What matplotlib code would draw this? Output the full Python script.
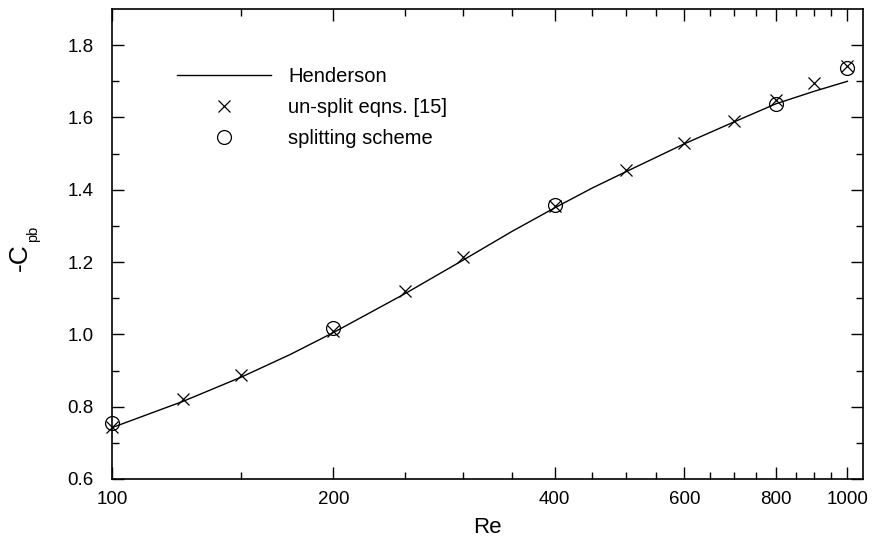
import numpy as np
import matplotlib
matplotlib.use('Agg')
import matplotlib.pyplot as plt
from matplotlib.ticker import FixedLocator, NullFormatter

plt.rcParams['font.family'] = ['Liberation Sans', 'DejaVu Sans']

# Henderson curve
re_hend = [100, 125, 150, 175, 200, 250, 300, 350, 400, 450, 500, 600, 700, 800, 900, 1000]
cpb_hend = [0.742, 0.815, 0.882, 0.945, 1.005, 1.112, 1.205, 1.285, 1.350, 1.405, 1.450,
            1.527, 1.587, 1.638, 1.672, 1.700]

# un-split equations
re_unsplit = [100, 125, 150, 200, 250, 300, 400, 500, 600, 700, 800, 900, 1000]
cpb_unsplit = [0.745, 0.821, 0.888, 1.010, 1.120, 1.214, 1.355, 1.455, 1.529, 1.590,
               1.648, 1.695, 1.743]

# splitting scheme
re_split = [100, 200, 400, 800, 1000]
cpb_split = [0.755, 1.018, 1.358, 1.637, 1.737]

fig = plt.figure(figsize=(8.72, 5.38), dpi=100)
ax = fig.add_axes([0.1284, 0.1097, 0.8613, 0.8736])

ax.plot(re_hend, cpb_hend, color='black', lw=1.0, label='Henderson')
ax.plot(re_unsplit, cpb_unsplit, ls='none', marker='x', ms=8.5, mew=0.9,
        color='black', label='un-split eqns. [15]', clip_on=False)
ax.plot(re_split, cpb_split, ls='none', marker='o', ms=10, mew=0.9,
        mfc='none', mec='black', label='splitting scheme', clip_on=False)

ax.set_xscale('log')
ax.set_xlim(100, 1050)
ax.set_ylim(0.6, 1.9)

major_x = [100, 200, 400, 600, 800, 1000]
minor_x = [r for r in range(150, 1001, 50) if r not in major_x]
ax.xaxis.set_major_locator(FixedLocator(major_x))
ax.xaxis.set_minor_locator(FixedLocator(minor_x))
ax.set_xticklabels([str(v) for v in major_x])
ax.xaxis.set_minor_formatter(NullFormatter())

ax.set_yticks(np.arange(0.6, 1.81, 0.2))
ax.set_yticklabels(['%.1f' % v for v in np.arange(0.6, 1.81, 0.2)])
ax.set_yticks(np.arange(0.7, 1.9, 0.2), minor=True)

ax.tick_params(which='both', direction='in', top=True, right=True,
               labelsize=13.5, width=1.0)
ax.tick_params(which='major', length=8.5)
ax.tick_params(which='minor', length=5)
ax.tick_params(axis='x', which='major', pad=9)
ax.tick_params(axis='y', which='major', pad=13)
for s in ax.spines.values():
    s.set_linewidth(1.2)

ax.set_xlabel('Re', fontsize=16, labelpad=6)

# y label: big "-C" with a small "pb" subscript
fig.text(20 / 872, 1 - 257 / 538, '-C', rotation=90, fontsize=19,
         ha='center', va='center')
fig.text(33 / 872, 1 - 234 / 538, 'pb', rotation=90, fontsize=10.5,
         ha='center', va='center')

ax.legend(loc='upper left', bbox_to_anchor=(0.062, 0.915), frameon=False,
          fontsize=14.5, handlelength=4.7, handletextpad=0.85, labelspacing=0.6)

fig.savefig('out.png', dpi=100)
